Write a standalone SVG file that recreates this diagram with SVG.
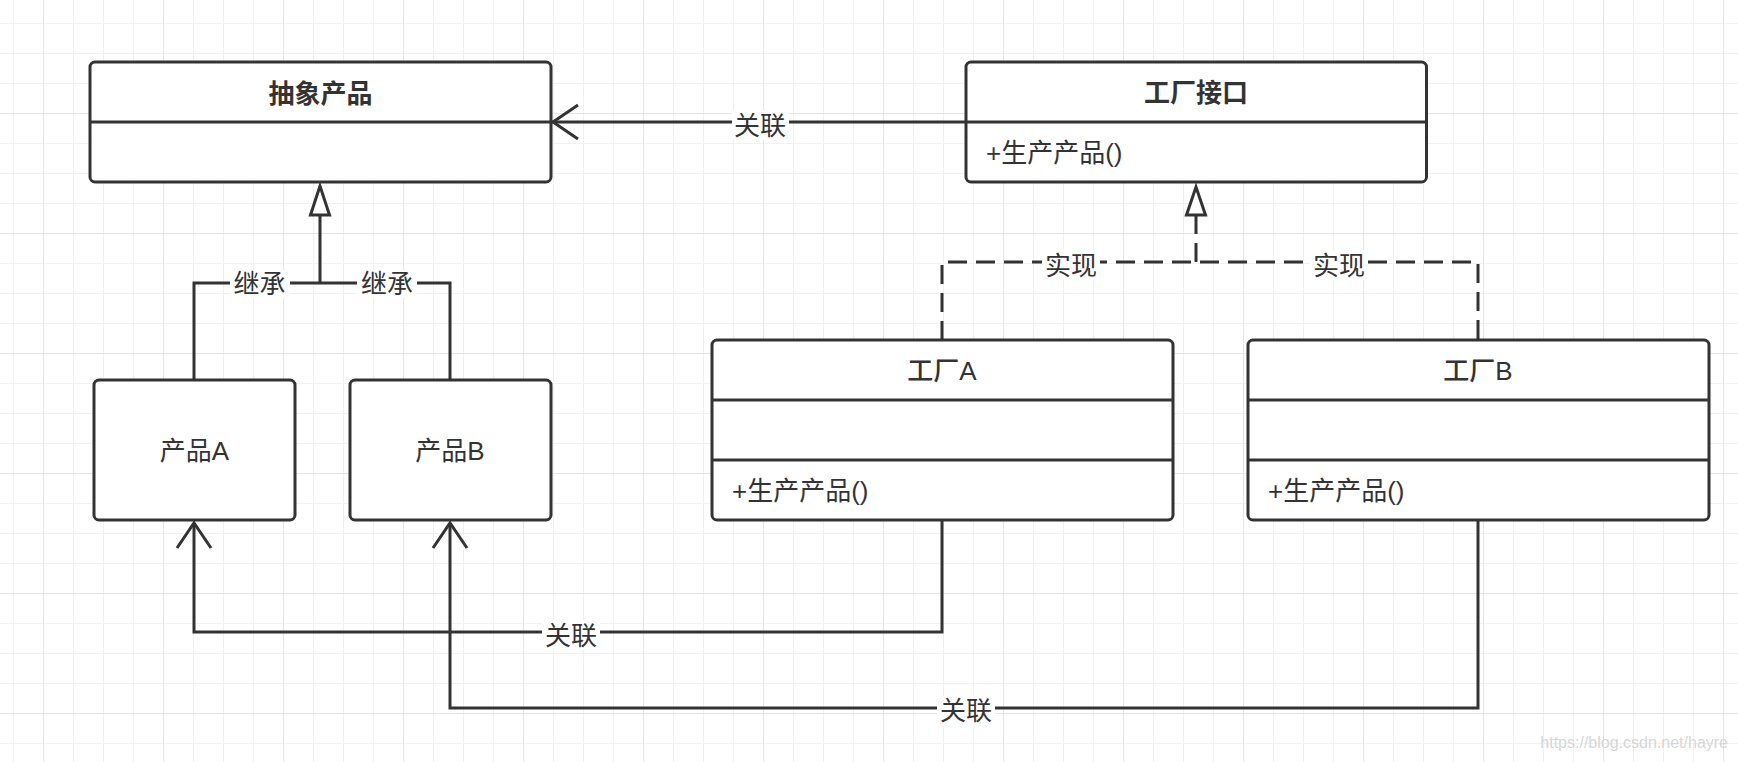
<svg xmlns="http://www.w3.org/2000/svg" width="1738" height="762" viewBox="0 0 1738 762">
<defs>
<pattern id="gMinor" x="13" y="23" width="30" height="30" patternUnits="userSpaceOnUse"><path d="M0 0 H30 M0 0 V30" stroke="#f1f1f1" stroke-width="2" fill="none"/></pattern>
<pattern id="gMajor" x="43" y="113" width="120" height="120" patternUnits="userSpaceOnUse"><path d="M0 0 H120 M0 0 V120" stroke="#e6e6e6" stroke-width="2" fill="none"/></pattern>
</defs>
<style>
.box{fill:#fff;stroke:#333;stroke-width:3}
.div{stroke:#333;stroke-width:3}
.ln{fill:none;stroke:#333;stroke-width:3}
.dash{fill:none;stroke:#333;stroke-width:3;stroke-dasharray:19 9}
.tri{fill:#fff;stroke:#333;stroke-width:3;stroke-linejoin:miter}
.t{font-family:"Liberation Sans","Noto Sans CJK SC",sans-serif;font-size:26px;fill:#333}
.b{font-weight:bold}
.m{font-weight:500}
.c{text-anchor:middle}
.lbg{fill:#fff}
</style>
<rect width="1738" height="762" fill="#fff"/>
<rect width="1738" height="762" fill="url(#gMinor)"/>
<rect width="1738" height="762" fill="url(#gMajor)"/>

<g id="connectors">
<path class="ln" d="M966 122 H552"/>
<path class="ln" d="M578 105 L553 122 L578 139"/>
<path class="ln" d="M194 380 V283 H450 V380 M320 283 V215"/>
<polygon class="tri" points="320,186 310.5,215 329.5,215"/>
<path class="dash" d="M942 340 V262 H1478 V340"/>
<path class="dash" d="M1196 262 V215"/>
<polygon class="tri" points="1196,187 1186.5,215 1205.5,215"/>
<path class="ln" d="M942 520 V632 H194 V523"/>
<path class="ln" d="M177 548 L194 523 L211 548"/>
<path class="ln" d="M1478 520 V708 H450 V523"/>
<path class="ln" d="M433 548 L450 523 L467 548"/>
<rect class="lbg" x="732" y="110" width="57" height="30"/>
<text class="t c" x="760" y="135">关联</text>
<rect class="lbg" x="230" y="270" width="60" height="28"/>
<text class="t c" x="259.5" y="293">继承</text>
<rect class="lbg" x="357" y="270" width="60" height="28"/>
<text class="t c" x="387" y="293">继承</text>
<rect class="lbg" x="1042" y="250" width="58" height="30"/>
<text class="t c" x="1071" y="275">实现</text>
<rect class="lbg" x="1310" y="250" width="58" height="30"/>
<text class="t c" x="1339" y="275">实现</text>
<rect class="lbg" x="542" y="620" width="58" height="30"/>
<text class="t c" x="571" y="645">关联</text>
<rect class="lbg" x="937" y="696" width="58" height="30"/>
<text class="t c" x="966" y="720">关联</text>
</g>

<g id="abstract-product">
<rect class="box" x="90" y="62" width="461" height="120" rx="5"/>
<line class="div" x1="90" y1="122" x2="551" y2="122"/>
<text class="t b c" x="320.5" y="103">抽象产品</text>
</g>

<g id="factory-interface">
<rect class="box" x="966" y="62" width="460.5" height="120" rx="5"/>
<line class="div" x1="966" y1="122" x2="1426.5" y2="122"/>
<text class="t b c" x="1196" y="102">工厂接口</text>
<text class="t" x="986" y="162">+生产产品()</text>
</g>

<g id="product-a">
<rect class="box" x="94" y="380" width="201" height="140" rx="5"/>
<text class="t c" x="194.5" y="460">产品A</text>
</g>

<g id="product-b">
<rect class="box" x="350" y="380" width="201" height="140" rx="5"/>
<text class="t c" x="450" y="460">产品B</text>
</g>

<g id="factory-a">
<rect class="box" x="712" y="340" width="461" height="180" rx="5"/>
<line class="div" x1="712" y1="400" x2="1173" y2="400"/>
<line class="div" x1="712" y1="460" x2="1173" y2="460"/>
<text class="t m c" x="942" y="380">工厂A</text>
<text class="t" x="732" y="500">+生产产品()</text>
</g>

<g id="factory-b">
<rect class="box" x="1248" y="340" width="461" height="180" rx="5"/>
<line class="div" x1="1248" y1="400" x2="1709" y2="400"/>
<line class="div" x1="1248" y1="460" x2="1709" y2="460"/>
<text class="t m c" x="1478" y="380">工厂B</text>
<text class="t" x="1268" y="500">+生产产品()</text>
</g>

<text x="1728" y="748" text-anchor="end" font-family="Liberation Sans, sans-serif" font-size="16" fill="#d6d6d6">https://blog.csdn.net/hayre</text>
</svg>
